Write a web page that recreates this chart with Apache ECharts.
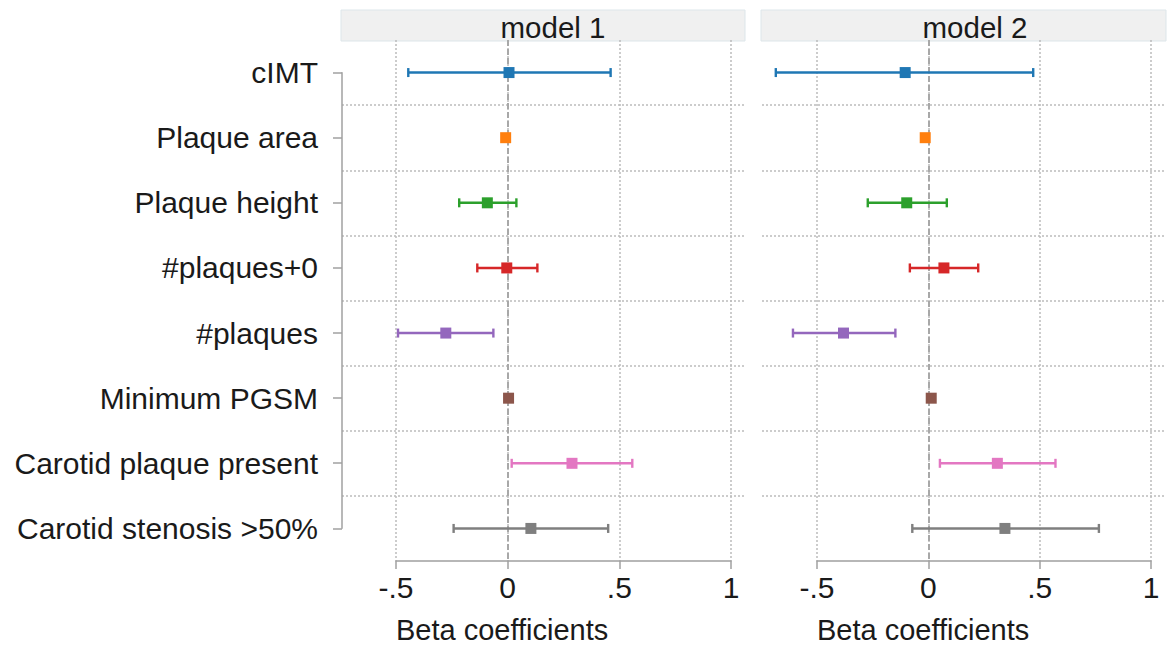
<!DOCTYPE html>
<html>
<head>
<meta charset="utf-8">
<title>Beta coefficients by model</title>
<script src="https://cdn.jsdelivr.net/npm/echarts@6/dist/echarts.min.js"></script>
<style>
  html, body { margin: 0; padding: 0; background: #fff; }
  #chart { width: 1168px; height: 647px; }
</style>
</head>
<body>
<div id="chart"></div>
<script>
// Outcomes, top to bottom
const categories = [
  'cIMT', 'Plaque area', 'Plaque height', '#plaques+0',
  '#plaques', 'Minimum PGSM', 'Carotid plaque present', 'Carotid stenosis >50%'
];

// Point estimates and 95% CI bounds (null = interval hidden by marker)
const model1Beta  = [0.006, -0.009, -0.091, -0.004, -0.277, 0.004, 0.288, 0.104];
const model1Lower = [-0.445, null, -0.217, -0.136, -0.491, null, 0.018, -0.242];
const model1Upper = [0.461, null, 0.039, 0.133, -0.064, null, 0.558, 0.450];

const model2Beta  = [-0.104, -0.014, -0.097, 0.070, -0.381, 0.013, 0.310, 0.344];
const model2Lower = [-0.685, null, -0.272, -0.083, -0.608, null, 0.052, -0.072];
const model2Upper = [0.471, null, 0.083, 0.224, -0.148, null, 0.571, 0.766];

const xTickValues = [-0.5, 0, 0.5, 1];
const xTickLabels = ['-.5', '0', '.5', '1'];

const palette = ['#1f77b4', '#ff7f0e', '#2ca02c', '#d62728', '#9467bd', '#8c564b', '#e377c2', '#7f7f7f'];
const FONT = "'Liberation Sans', Arial, sans-serif";
const TEXT = '#1a1a1a';
const AXIS = '#a0a0a0';
const GRIDLINE = { color: '#bcbcbc', width: 1.5, type: [2, 2] };

const panels = [
  { name: 'model 1', beta: model1Beta, lower: model1Lower, upper: model1Upper,
    left: 342, width: 402, plotLeft: 396, plotWidth: 335, titleX: 553 },
  { name: 'model 2', beta: model2Beta, lower: model2Lower, upper: model2Upper,
    left: 762, width: 403, plotLeft: 817, plotWidth: 334, titleX: 975 }
];

const PLOT_TOP = 40, PLOT_HEIGHT = 521;

const grid = [], xAxis = [], yAxis = [], series = [], graphic = [];

function hiddenAxes(gi) {
  xAxis.push({ gridIndex: gi, type: 'value', show: false });
  yAxis.push({ gridIndex: gi, type: 'value', show: false });
}

panels.forEach((p) => {
  // strip header
  let gi = grid.length;
  grid.push({ left: p.left - 1, top: 10, width: p.width + 2, height: 31, show: true,
    backgroundColor: '#f0f0f0', borderColor: '#dde6ea', borderWidth: 1 });
  hiddenAxes(gi);
  graphic.push({ type: 'text', x: p.titleX, y: 27,
    style: { text: p.name, fontSize: 29.5, fontFamily: FONT, fill: TEXT,
      textAlign: 'center', textVerticalAlign: 'middle' } });

  // row separators across the full panel width
  gi = grid.length;
  grid.push({ left: p.left, top: PLOT_TOP, width: p.width, height: PLOT_HEIGHT });
  xAxis.push({ gridIndex: gi, type: 'value', show: false });
  yAxis.push({
    gridIndex: gi, type: 'category', data: categories, inverse: true, boundaryGap: true,
    axisLine: { show: false }, axisTick: { show: false }, axisLabel: { show: false },
    splitLine: { show: true, interval: 0, showMinLine: false, showMaxLine: false, lineStyle: GRIDLINE }
  });

  // plotting area: x from -.5 to 1
  gi = grid.length;
  grid.push({ left: p.plotLeft, top: PLOT_TOP, width: p.plotWidth, height: PLOT_HEIGHT });
  xAxis.push({
    gridIndex: gi, type: 'value', min: -0.5, max: 1, interval: 0.5,
    axisLine: { show: true, lineStyle: { color: AXIS, width: 1.5 } },
    axisTick: { show: true, length: 8, lineStyle: { color: AXIS, width: 1.5 } },
    axisLabel: { margin: 11, fontSize: 30, fontFamily: FONT, color: TEXT,
      formatter: (v) => {
        const k = xTickValues.findIndex((t) => Math.abs(t - v) < 1e-9);
        return k >= 0 ? xTickLabels[k] : '';
      } },
    splitLine: { show: true, lineStyle: GRIDLINE }
  });
  yAxis.push({ gridIndex: gi, type: 'category', data: categories, inverse: true, show: false });

  graphic.push({ type: 'text', x: p.plotLeft, y: 630,
    style: { text: 'Beta coefficients', fontSize: 29, fontFamily: FONT, fill: TEXT,
      textAlign: 'left', textVerticalAlign: 'middle' } });

  // zero reference line
  series.push({
    type: 'scatter', xAxisIndex: gi, yAxisIndex: gi, data: [], z: 1, silent: true,
    markLine: { silent: true, symbol: 'none', z: 1, animation: false,
      label: { show: false },
      lineStyle: { color: '#a8a8a8', width: 2, type: [6, 3] },
      data: [{ xAxis: 0 }] }
  });

  // confidence intervals
  const ciData = [];
  p.beta.forEach((b, i) => {
    if (p.lower[i] != null) ciData.push([p.lower[i], p.upper[i], i]);
  });
  series.push({
    type: 'custom', xAxisIndex: gi, yAxisIndex: gi, z: 2, clip: false, silent: true,
    encode: { x: [0, 1], y: 2 },
    data: ciData,
    renderItem: (params, api) => {
      const idx = api.value(2);
      const a = api.coord([api.value(0), idx]);
      const b = api.coord([api.value(1), idx]);
      const c = palette[idx];
      const cap = 4.5;
      const st = { stroke: c, lineWidth: 2.4 };
      return {
        type: 'group',
        children: [
          { type: 'line', shape: { x1: a[0], y1: a[1], x2: b[0], y2: b[1] }, style: st },
          { type: 'line', shape: { x1: a[0], y1: a[1] - cap, x2: a[0], y2: a[1] + cap }, style: st },
          { type: 'line', shape: { x1: b[0], y1: b[1] - cap, x2: b[0], y2: b[1] + cap }, style: st }
        ]
      };
    }
  });

  // point estimates
  series.push({
    type: 'scatter', xAxisIndex: gi, yAxisIndex: gi, z: 3, symbol: 'rect', symbolSize: 11,
    data: p.beta.map((v, i) => ({ value: [v, i], itemStyle: { color: palette[i], opacity: 1 } }))
  });
});

// outcome labels on the left
const gl = grid.length;
grid.push({ left: 342, top: 72.7, width: 402, height: 455.6 });
xAxis.push({ gridIndex: gl, type: 'value', show: false });
yAxis.push({
  gridIndex: gl, type: 'category', data: categories, inverse: true, boundaryGap: false,
  axisLine: { show: true, lineStyle: { color: AXIS, width: 1.5 } },
  axisTick: { show: true, length: 9, interval: 0, lineStyle: { color: AXIS, width: 1.5 } },
  axisLabel: { margin: 24, interval: 0, fontSize: 30, fontFamily: FONT, color: TEXT },
  splitLine: { show: false }
});

const chart = echarts.init(document.getElementById('chart'), null, { renderer: 'svg' });
chart.setOption({
  animation: false,
  backgroundColor: '#ffffff',
  textStyle: { fontFamily: FONT },
  grid, xAxis, yAxis, series, graphic
});
</script>
</body>
</html>
